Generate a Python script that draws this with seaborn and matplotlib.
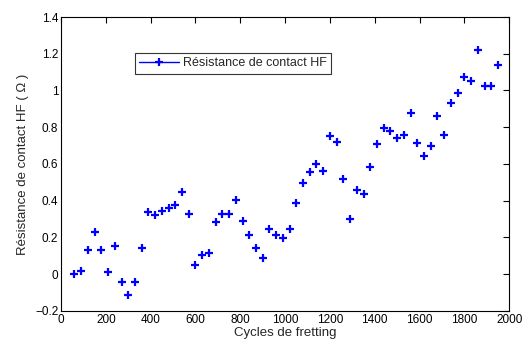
import matplotlib
matplotlib.use("Agg")
import matplotlib.pyplot as plt
from matplotlib.lines import Line2D
import seaborn as sns
import pandas as pd

# fretting cycles (x) and HF contact resistance (y)
cycles = [60, 90, 120, 150, 180, 210, 240, 270, 300, 330,
          360, 390, 420, 450, 480, 510, 540, 570, 600, 630,
          660, 690, 720, 750, 780, 810, 840, 870, 900, 930,
          960, 990, 1020, 1050, 1080, 1110, 1140, 1170, 1200, 1230,
          1260, 1290, 1320, 1350, 1380, 1410, 1440, 1470, 1500, 1530,
          1560, 1590, 1620, 1650, 1680, 1710, 1740, 1770, 1800, 1830,
          1860, 1890, 1920, 1950]
resistance = [0.00, 0.015, 0.132, 0.229, 0.132, 0.011, 0.154, -0.045, -0.116, -0.045,
              0.140, 0.338, 0.323, 0.343, 0.359, 0.374, 0.446, 0.327, 0.051, 0.102,
              0.114, 0.283, 0.327, 0.327, 0.403, 0.290, 0.214, 0.145, 0.087, 0.245,
              0.214, 0.196, 0.245, 0.390, 0.495, 0.555, 0.599, 0.559, 0.753, 0.722,
              0.517, 0.301, 0.459, 0.437, 0.583, 0.708, 0.795, 0.780, 0.744, 0.757,
              0.877, 0.713, 0.644, 0.699, 0.862, 0.759, 0.931, 0.985, 1.074, 1.054,
              1.218, 1.025, 1.025, 1.140]
series_label = "Résistance de contact HF"
x_ticks = [0, 200, 400, 600, 800, 1000, 1200, 1400, 1600, 1800, 2000]
y_ticks = [-0.2, 0, 0.2, 0.4, 0.6, 0.8, 1.0, 1.2, 1.4]
y_ticklabels = ["\u22120.2", "0", "0.2", "0.4", "0.6", "0.8", "1", "1.2", "1.4"]

df = pd.DataFrame({"Cycles": cycles, "R": resistance})

sns.set_style("white")
plt.rcParams["font.family"] = ["Liberation Sans", "DejaVu Sans"]

fig = plt.figure(figsize=(5.26, 3.47), dpi=100)
ax = fig.add_axes([0.116, 0.104, 0.852, 0.847])

blue = "#0000ff"
sns.lineplot(data=df, x="Cycles", y="R", ax=ax, linestyle="", marker="+",
             markersize=6, markeredgewidth=1.6, color=blue,
             markeredgecolor=blue, legend=False)

ax.set_xlim(0, 2000)
ax.set_ylim(-0.2, 1.4)
ax.set_xticks(x_ticks)
ax.set_yticks(y_ticks)
ax.set_yticklabels(y_ticklabels)
ax.tick_params(direction="in", top=True, right=True, length=4, width=0.8,
               labelsize=8.5, pad=2, colors="black")
for s in ax.spines.values():
    s.set_color("black")
    s.set_linewidth(0.8)

ax.set_xlabel("Cycles de fretting", fontsize=9.5, labelpad=1)
ax.set_ylabel("Résistance de contact HF ( \u03a9 )", fontsize=9.5, labelpad=4)

handle = Line2D([], [], color=blue, linestyle="-", linewidth=1, marker="+",
                markersize=6, markeredgewidth=1.6)
leg = ax.legend([handle], [series_label], loc="upper left",
                bbox_to_anchor=(0.165, 0.878), borderaxespad=0, fontsize=9,
                frameon=True, fancybox=False, handlelength=3.2, borderpad=0.35,
                handletextpad=0.3)
leg.get_frame().set_edgecolor("black")
leg.get_frame().set_linewidth(0.8)

fig.savefig("out.png", dpi=100)
